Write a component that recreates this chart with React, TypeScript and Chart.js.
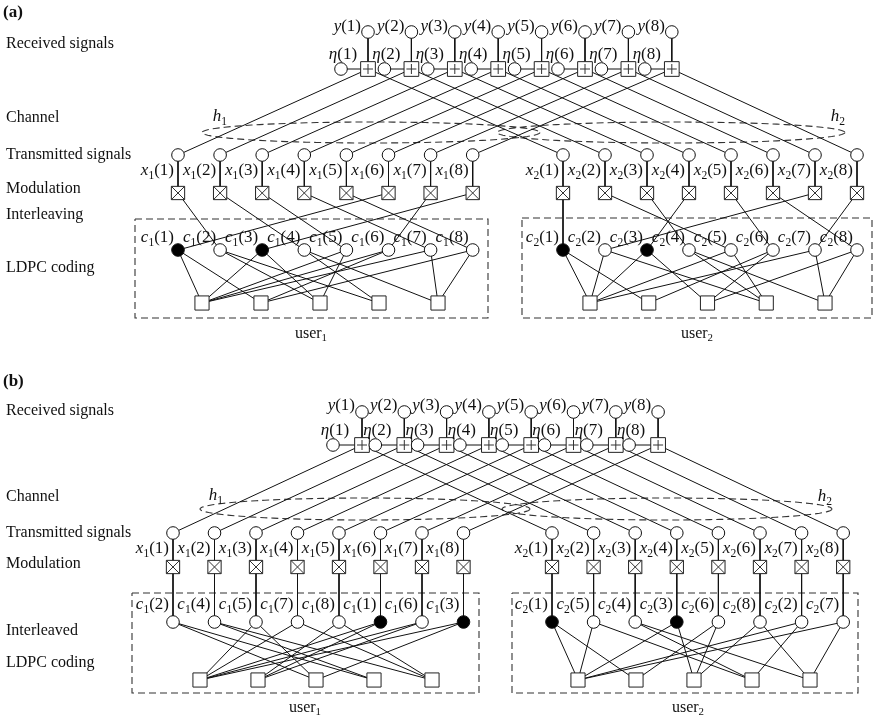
import React, { useEffect, useRef } from 'react';
import { Chart, registerables } from 'chart.js';

Chart.register(...registerables);

const W = 874;
const H = 716;
const FONT = '"Liberation Serif", "Times New Roman", Times, serif';

// ---------------- data ----------------
const symbolIndices = [1, 2, 3, 4, 5, 6, 7, 8];
const checkIndices = [1, 2, 3, 4, 5];
const users = [1, 2];
const panelTags = ['(a)', '(b)'];
const stageLabelsA = ['Received signals', 'Channel', 'Transmitted signals', 'Modulation', 'Interleaving', 'LDPC coding'];
const stageLabelsB = ['Received signals', 'Channel', 'Transmitted signals', 'Modulation', 'Interleaved', 'LDPC coding'];
// modulation slot k carries coded bit c_u(interleaver[k])
const interleaverUser1 = [2, 4, 5, 7, 8, 1, 6, 3];
const interleaverUser2 = [1, 5, 4, 3, 6, 8, 2, 7];
const filledBitsUser1 = [1, 3];
const filledBitsUser2 = [1, 3];
// check nodes attached to c_u(1..8)
const ldpcChecksUser1 = [[1, 2], [3, 4], [1, 3], [4, 5], [1, 3], [1, 2], [1, 5], [2, 5]];
const ldpcChecksUser2 = [[1, 2], [1, 4], [1, 3], [4, 5], [1, 4], [2, 3], [1, 5], [3, 5]];
const gainSymbol = 'h';
const userWord = 'user';

// ---------------- layout ----------------
type Layout = {
  tagY: number; stageY: number[]; stages: string[];
  boxX0: number; boxStep: number; etaDx: number;
  yCircleY: number; boxY: number; yLabelY: number; etaLabelY: number;
  xX0: number[]; xStep: number[]; xCircleY: number; xLabelY: number; modY: number;
  rects: number[][]; cLabelY: number; cY: number; checkY: number;
  chkX0: number[]; chkStep: number[]; userLabelY: number; userX: number[];
  ells: number[][]; hLabels: number[][]; interleavedOrder: boolean;
};

const layoutA: Layout = {
  tagY: 12, stageY: [43, 117, 154, 188, 214, 267], stages: stageLabelsA,
  boxX0: 368, boxStep: 43.4, etaDx: -27,
  yCircleY: 32, boxY: 69, yLabelY: 26, etaLabelY: 54,
  xX0: [178, 563], xStep: [42.1, 42], xCircleY: 155, xLabelY: 170, modY: 193,
  rects: [[135, 219, 488, 318], [522, 218, 872, 318]],
  cLabelY: 237, cY: 250, checkY: 303,
  chkX0: [202, 590], chkStep: [59, 58.75], userLabelY: 333, userX: [311, 697],
  ells: [[371, 132.5, 169, 10.5], [671, 132.5, 174, 10.5]],
  hLabels: [[220, 116], [838, 116]], interleavedOrder: false,
};

const layoutB: Layout = {
  tagY: 381, stageY: [410, 496, 532, 563, 630, 662], stages: stageLabelsB,
  boxX0: 362, boxStep: 42.3, etaDx: -29,
  yCircleY: 412, boxY: 445, yLabelY: 405, etaLabelY: 430,
  xX0: [173, 552], xStep: [41.5, 41.6], xCircleY: 533, xLabelY: 548, modY: 567,
  rects: [[132, 593, 479, 693], [512, 593, 858, 693]],
  cLabelY: 604, cY: 622, checkY: 680,
  chkX0: [200, 578], chkStep: [58, 58], userLabelY: 707, userX: [305, 688],
  ells: [[365, 509, 165, 11], [667, 509, 165, 11]],
  hLabels: [[216, 495], [825, 496]], interleavedOrder: true,
};

const layouts = [layoutA, layoutB];

type Pt = { x: number | null; y: number | null };
const GAP = (): Pt => ({ x: null, y: null });

const inter = (u: number) => (u === 1 ? interleaverUser1 : interleaverUser2);
const filledOf = (u: number) => (u === 1 ? filledBitsUser1 : filledBitsUser2);
const ldpcOf = (u: number) => (u === 1 ? ldpcChecksUser1 : ldpcChecksUser2);

function geom(L: Layout) {
  const boxX = (k: number) => L.boxX0 + L.boxStep * (k - 1);
  const xX = (u: number, k: number) => L.xX0[u - 1] + L.xStep[u - 1] * (k - 1);
  const chkX = (u: number, j: number) => L.chkX0[u - 1] + L.chkStep[u - 1] * (j - 1);
  const posOf = (u: number, v: number) => (L.interleavedOrder ? inter(u).indexOf(v) + 1 : v);
  return { boxX, xX, chkX, posOf };
}

function buildDatasets() {
  const edges: Pt[] = [];
  const dashed: Pt[] = [];
  const open: Pt[] = [];
  const filled: Pt[] = [];
  const plusBoxes: Pt[] = [];
  const modBoxes: Pt[] = [];
  const checks: Pt[] = [];
  const seg = (a: Pt, b: Pt) => edges.push(a, b, GAP());

  layouts.forEach((L) => {
    const { boxX, xX, chkX, posOf } = geom(L);
    symbolIndices.forEach((k) => {
      const bx = boxX(k);
      const yc = { x: bx, y: L.yCircleY };
      const box = { x: bx, y: L.boxY };
      const eta = { x: bx + L.etaDx, y: L.boxY };
      open.push(yc, eta);
      plusBoxes.push(box);
      seg(yc, box);
      seg(eta, box);
      users.forEach((u) => {
        const xc = { x: xX(u, k), y: L.xCircleY };
        const mod = { x: xX(u, k), y: L.modY };
        open.push(xc);
        modBoxes.push(mod);
        seg(xc, box);
        seg(xc, mod);
      });
    });
    users.forEach((u) => {
      const cPt = (v: number) => ({ x: xX(u, posOf(u, v)), y: L.cY });
      symbolIndices.forEach((k) => seg({ x: xX(u, k), y: L.modY }, cPt(inter(u)[k - 1])));
      symbolIndices.forEach((v) => {
        (filledOf(u).includes(v) ? filled : open).push(cPt(v));
        ldpcOf(u)[v - 1].forEach((j) => seg(cPt(v), { x: chkX(u, j), y: L.checkY }));
      });
      checkIndices.forEach((j) => checks.push({ x: chkX(u, j), y: L.checkY }));
      const [l, t, r, b] = L.rects[u - 1];
      dashed.push({ x: l, y: t }, { x: r, y: t }, { x: r, y: b }, { x: l, y: b }, { x: l, y: t }, GAP());
      const [cx, cy, rx, ry] = L.ells[u - 1];
      for (let i = 0; i <= 96; i++) {
        const a = (i / 96) * Math.PI * 2;
        dashed.push({ x: cx + rx * Math.cos(a), y: cy + ry * Math.sin(a) });
      }
      dashed.push(GAP());
    });
  });

  const pts = (data: Pt[], style: string, r: number, bg: string, order: number, border = '#111') => ({
    data, showLine: false, pointStyle: style, pointRadius: r, pointHoverRadius: r,
    pointBackgroundColor: bg, pointBorderColor: border, pointBorderWidth: 1, order,
  });

  return [
    { data: edges, showLine: true, spanGaps: false, borderColor: '#111', borderWidth: 1, pointRadius: 0, order: 5 },
    { data: dashed, showLine: true, spanGaps: false, borderColor: '#333', borderWidth: 1.1, borderDash: [7, 4], pointRadius: 0, order: 5 },
    pts(open, 'circle', 6.3, '#fff', 2),
    pts(filled, 'circle', 6.3, '#000', 2),
    pts(plusBoxes, 'rect', 10.4, '#fff', 2, '#222'),
    pts(plusBoxes, 'cross', 5, 'rgba(0,0,0,0)', 1, '#333'),
    pts(modBoxes, 'rect', 9.4, '#fff', 2, '#222'),
    pts(modBoxes, 'crossRot', 9.4, 'rgba(0,0,0,0)', 1, '#333'),
    pts(checks, 'rect', 10, '#fff', 2, '#222'),
  ];
}

type Part = [string, string];

function drawRich(ctx: CanvasRenderingContext2D, parts: Part[], x: number, y: number, align: string, size: number) {
  const fontFor = (st: string) => {
    const s = st === 's' ? size * 0.68 : size;
    return `${st === 'i' ? 'italic ' : ''}${st === 'b' ? 'bold ' : ''}${s}px ${FONT}`;
  };
  let total = 0;
  const widths = parts.map(([t, st]) => {
    ctx.font = fontFor(st);
    const w = ctx.measureText(t).width;
    total += w;
    return w;
  });
  let cx = align === 'left' ? x : align === 'right' ? x - total : x - total / 2;
  const base = y + size * 0.3;
  ctx.textBaseline = 'alphabetic';
  ctx.textAlign = 'left';
  parts.forEach(([t, st], i) => {
    ctx.font = fontFor(st);
    ctx.fillText(t, cx, st === 's' ? base + size * 0.2 : base);
    cx += widths[i];
  });
}

const textPlugin = {
  id: 'diagramText',
  afterDatasetsDraw(chart: any) {
    const ctx: CanvasRenderingContext2D = chart.ctx;
    const sx = (v: number) => chart.scales.x.getPixelForValue(v);
    const sy = (v: number) => chart.scales.y.getPixelForValue(v);
    ctx.save();
    ctx.fillStyle = '#111';
    layouts.forEach((L, p) => {
      const { boxX, xX, posOf } = geom(L);
      drawRich(ctx, [[panelTags[p], 'b']], sx(3), sy(L.tagY), 'left', 17);
      L.stages.forEach((s, i) => drawRich(ctx, [[s, 'r']], sx(6), sy(L.stageY[i]), 'left', 16));
      symbolIndices.forEach((k) => {
        drawRich(ctx, [['y', 'i'], [`(${k})`, 'r']], sx(boxX(k) - 7), sy(L.yLabelY), 'right', 17);
        drawRich(ctx, [['η', 'i'], [`(${k})`, 'r']], sx(boxX(k) + L.etaDx + 2), sy(L.etaLabelY), 'center', 17);
        users.forEach((u) => {
          drawRich(ctx, [['x', 'i'], [String(u), 's'], [`(${k})`, 'r']], sx(xX(u, k) - 4), sy(L.xLabelY), 'right', 17);
        });
      });
      users.forEach((u) => {
        symbolIndices.forEach((v) => {
          const px = xX(u, posOf(u, v));
          drawRich(ctx, [['c', 'i'], [String(u), 's'], [`(${v})`, 'r']], sx(px - 4), sy(L.cLabelY), 'right', 17);
        });
        drawRich(ctx, [[userWord, 'r'], [String(u), 's']], sx(L.userX[u - 1]), sy(L.userLabelY), 'center', 16);
        const [hx, hy] = L.hLabels[u - 1];
        drawRich(ctx, [[gainSymbol, 'i'], [String(u), 's']], sx(hx), sy(hy), 'center', 17);
      });
    });
    ctx.restore();
  },
};

export default function App() {
  const ref = useRef<HTMLCanvasElement>(null);
  useEffect(() => {
    document.body.style.margin = '0';
    const chart = new Chart(ref.current as HTMLCanvasElement, {
      type: 'scatter',
      data: { datasets: buildDatasets() as any },
      options: {
        animation: false,
        responsive: false,
        maintainAspectRatio: false,
        layout: { padding: 0, autoPadding: false },
        events: [],
        scales: {
          x: { type: 'linear', min: 0, max: W, display: false },
          y: { type: 'linear', min: 0, max: H, reverse: true, display: false },
        },
        plugins: { legend: { display: false }, tooltip: { enabled: false } },
      },
      plugins: [textPlugin],
    });
    return () => chart.destroy();
  }, []);
  return (
    <div style={{ width: W, height: H, background: '#fff' }}>
      <canvas ref={ref} width={W} height={H} style={{ display: 'block' }} />
    </div>
  );
}
